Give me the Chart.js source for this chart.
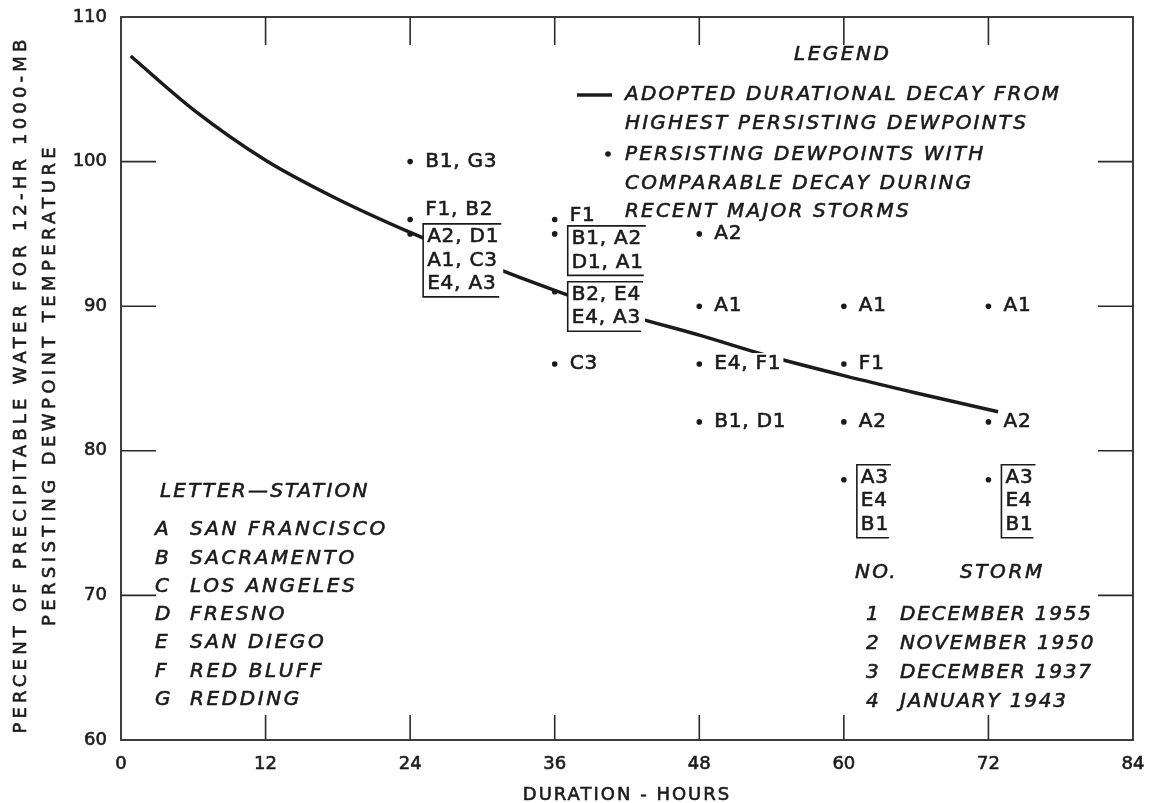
<!DOCTYPE html>
<html>
<head>
<meta charset="utf-8">
<script src="https://cdn.jsdelivr.net/npm/chart.js@4.4.1/dist/chart.umd.min.js"></script>
<style>
  html, body { margin: 0; padding: 0; background: #fff; }
</style>
</head>
<body>
<canvas id="chart" width="1156" height="803"></canvas>
<script>
// Adopted durational decay curve (hours, percent)
var decayHours = [0.8, 6, 12, 18, 24, 30, 36, 42, 48, 54, 60, 66, 72.8];
var decayPct = [107.3, 103.6, 100.1, 97.4, 95.1, 93.0, 91.1, 89.4, 88.0, 86.5, 85.2, 84.0, 82.7];

// Persisting dewpoints during recent storms
var pointHours = [24, 24, 24, 36, 36, 36, 36, 48, 48, 48, 48, 60, 60, 60, 60, 72, 72, 72];
var pointPct = [100, 96, 95, 96, 95, 91, 86, 95, 90, 86, 82, 90, 86, 82, 78, 90, 82, 78];
var pointLabels = [
  ['B1, G3'], ['F1, B2'], ['A2, D1', 'A1, C3', 'E4, A3'],
  ['F1'], ['B1, A2', 'D1, A1'], ['B2, E4', 'E4, A3'], ['C3'],
  ['A2'], ['A1'], ['E4, F1'], ['B1, D1'],
  ['A1'], ['F1'], ['A2'], ['A3', 'E4', 'B1'],
  ['A1'], ['A2'], ['A3', 'E4', 'B1']
];

// axis ticks
var xTicks = [0, 12, 24, 36, 48, 60, 72, 84];
var yTicks = [60, 70, 80, 90, 100, 110];

// key tables
var stationLetters = ['A', 'B', 'C', 'D', 'E', 'F', 'G'];
var stationNames = ['SAN FRANCISCO', 'SACRAMENTO', 'LOS ANGELES', 'FRESNO', 'SAN DIEGO', 'RED BLUFF', 'REDDING'];
var stormNumbers = ['1', '2', '3', '4'];
var stormNames = ['DECEMBER 1955', 'NOVEMBER 1950', 'DECEMBER 1937', 'JANUARY 1943'];

// label nudges (pixels), keyed by point index
var labelDy = { 1: -10, 3: -4, 4: 2, 14: -5, 17: -5 };

var INK = '#1b1b1b';
var ITALIC = 'italic 20px "DejaVu Sans"';
var UPRIGHT = '20px "DejaVu Sans"';
var AXISFONT = '18px "DejaVu Sans"';

function put(ctx, s, x, y, font, spacing, align) {
  ctx.font = font;
  ctx.letterSpacing = spacing + 'px';
  ctx.textAlign = align || 'left';
  ctx.textBaseline = 'middle';
  ctx.fillStyle = INK;
  ctx.strokeStyle = INK;
  ctx.lineWidth = 0.6;
  ctx.fillText(s, x, y);
  ctx.strokeText(s, x, y);
}

function seg(ctx, x1, y1, x2, y2, w) {
  ctx.lineWidth = w;
  ctx.beginPath();
  ctx.moveTo(x1, y1);
  ctx.lineTo(x2, y2);
  ctx.stroke();
}

// frame and inside tick marks
var framePlugin = {
  id: 'frame',
  beforeDatasetsDraw: function (chart) {
    var ctx = chart.ctx, a = chart.chartArea;
    var xs = chart.scales.x, ys = chart.scales.y;
    ctx.save();
    ctx.strokeStyle = '#2a2a2a';
    ctx.lineWidth = 1.8;
    ctx.strokeRect(a.left, a.top, a.right - a.left, a.bottom - a.top);
    xTicks.slice(1, -1).forEach(function (v) {
      var px = xs.getPixelForValue(v);
      seg(ctx, px, a.bottom, px, a.bottom - 25, 1.6);
      seg(ctx, px, a.top, px, a.top + 28, 1.6);
    });
    yTicks.slice(1, -1).forEach(function (v) {
      var py = ys.getPixelForValue(v);
      seg(ctx, a.left, py, a.left + 35, py, 1.6);
      seg(ctx, a.right, py, a.right - 35, py, 1.6);
    });
    ctx.restore();
  }
};

// point labels, keys and axis titles
var notesPlugin = {
  id: 'notes',
  afterDatasetsDraw: function (chart) {
    var ctx = chart.ctx, a = chart.chartArea;
    var xs = chart.scales.x, ys = chart.scales.y;
    ctx.save();

    pointLabels.forEach(function (lines, i) {
      var px = xs.getPixelForValue(pointHours[i]);
      var py = ys.getPixelForValue(pointPct[i]) + (labelDy[i] || 0);
      ctx.font = UPRIGHT;
      ctx.letterSpacing = '0.8px';
      if (lines.length === 1) {
        var w = ctx.measureText(lines[0]).width;
        ctx.fillStyle = '#fff';
        ctx.fillRect(px + 13, py - 11, w + 4, 22);
        put(ctx, lines[0], px + 15, py, UPRIGHT, 0.8);
      } else {
        var gap = 23.5;
        var maxW = 0;
        lines.forEach(function (s) { maxW = Math.max(maxW, ctx.measureText(s).width); });
        var bl = px + 13;
        var first = py + 3;
        var top = first - 13;
        var bot = first + (lines.length - 1) * gap + 13;
        ctx.fillStyle = '#fff';
        ctx.fillRect(bl, top, maxW + 8, bot - top);
        lines.forEach(function (s, k) { put(ctx, s, bl + 4, first + k * gap, UPRIGHT, 0.8); });
        ctx.strokeStyle = INK;
        ctx.beginPath();
        ctx.lineWidth = 1.6;
        ctx.moveTo(bl + maxW + 6, top);
        ctx.lineTo(bl, top);
        ctx.lineTo(bl, bot);
        ctx.lineTo(bl + maxW + 4, bot);
        ctx.stroke();
      }
    });

    // legend
    put(ctx, 'LEGEND', 794, 55, ITALIC, 2.5);
    ctx.strokeStyle = INK;
    seg(ctx, 577, 95, 612, 95, 3.5);
    put(ctx, 'ADOPTED DURATIONAL DECAY FROM', 625, 95, ITALIC, 2.2);
    put(ctx, 'HIGHEST PERSISTING DEWPOINTS', 625, 124, ITALIC, 2.2);
    ctx.fillStyle = INK;
    ctx.beginPath();
    ctx.arc(608, 154, 2.8, 0, Math.PI * 2);
    ctx.fill();
    put(ctx, 'PERSISTING DEWPOINTS WITH', 625, 155, ITALIC, 2.2);
    put(ctx, 'COMPARABLE DECAY DURING', 625, 184, ITALIC, 2.2);
    put(ctx, 'RECENT MAJOR STORMS', 625, 212, ITALIC, 2.2);

    // letter - station key
    put(ctx, 'LETTER\u2014STATION', 160, 492, ITALIC, 2.2);
    stationLetters.forEach(function (l, k) {
      var y = 530 + k * 28.3;
      put(ctx, l, 155, y, ITALIC, 2.2);
      put(ctx, stationNames[k], 190, y, ITALIC, 2.6);
    });

    // storm key
    put(ctx, 'NO.', 855, 573, ITALIC, 2.2);
    put(ctx, 'STORM', 960, 573, ITALIC, 2.6);
    stormNumbers.forEach(function (n, k) {
      var y = 615 + k * 29;
      put(ctx, n, 866, y, ITALIC, 2);
      put(ctx, stormNames[k], 900, y, ITALIC, 1.8);
    });

    // axis titles
    var cy = (a.top + a.bottom) / 2 + 6;
    ctx.save();
    ctx.translate(21, cy);
    ctx.rotate(-Math.PI / 2);
    put(ctx, 'PERCENT OF PRECIPITABLE WATER FOR 12-HR 1000-MB', 0, 0, AXISFONT, 4.2, 'center');
    ctx.restore();
    ctx.save();
    ctx.translate(50, cy);
    ctx.rotate(-Math.PI / 2);
    put(ctx, 'PERSISTING DEWPOINT TEMPERATURE', 0, 0, AXISFONT, 4.4, 'center');
    ctx.restore();
    put(ctx, 'DURATION - HOURS', (a.left + a.right) / 2, 795, AXISFONT, 2, 'center');

    ctx.restore();
  }
};

var curve = decayHours.map(function (h, i) { return { x: h, y: decayPct[i] }; });
var dots = pointHours.map(function (h, i) { return { x: h, y: pointPct[i] }; });

new Chart(document.getElementById('chart'), {
  type: 'scatter',
  data: {
    datasets: [
      {
        type: 'line',
        data: curve,
        borderColor: INK,
        borderWidth: 3.5,
        pointRadius: 0,
        cubicInterpolationMode: 'monotone',
        fill: false
      },
      {
        data: dots,
        backgroundColor: INK,
        borderColor: INK,
        pointRadius: 2.8,
        borderWidth: 0
      }
    ]
  },
  options: {
    responsive: false,
    animation: false,
    devicePixelRatio: 1,
    layout: { padding: { top: 17, right: 23, left: 0, bottom: 0 } },
    plugins: { legend: { display: false }, tooltip: { enabled: false } },
    scales: {
      x: {
        type: 'linear', min: 0, max: 84,
        grid: { display: false },
        border: { display: false },
        afterBuildTicks: function (s) { s.ticks = xTicks.map(function (v) { return { value: v }; }); },
        afterFit: function (s) { s.height = 63; },
        ticks: {
          color: INK, padding: 6, maxRotation: 0,
          textStrokeColor: INK, textStrokeWidth: 0.6,
          font: { family: 'DejaVu Sans', size: 18 }
        }
      },
      y: {
        type: 'linear', min: 60, max: 110,
        grid: { display: false },
        border: { display: false },
        afterBuildTicks: function (s) { s.ticks = yTicks.map(function (v) { return { value: v }; }); },
        afterFit: function (s) { s.width = 121; },
        ticks: {
          color: INK, padding: 6,
          textStrokeColor: INK, textStrokeWidth: 0.6,
          font: { family: 'DejaVu Sans', size: 18 }
        }
      }
    }
  },
  plugins: [framePlugin, notesPlugin]
});
</script>
</body>
</html>
